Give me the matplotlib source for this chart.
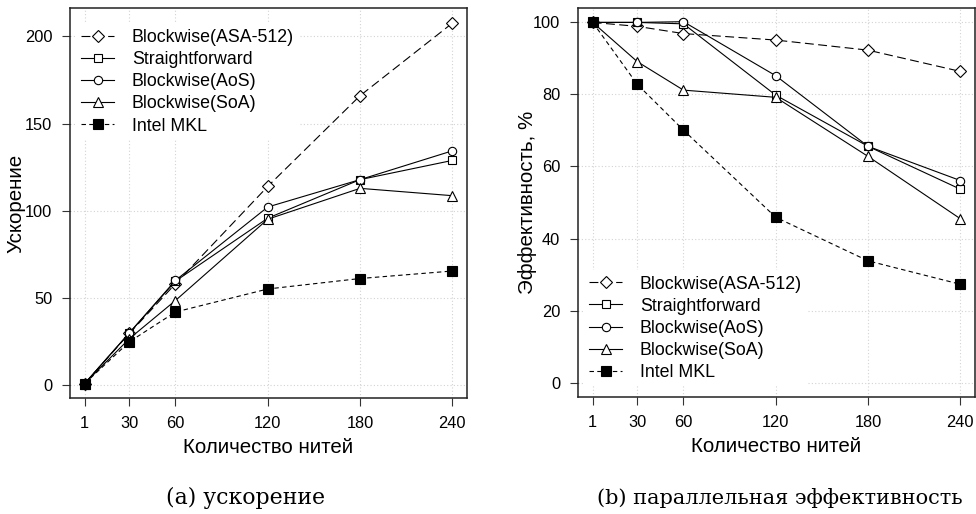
import matplotlib
matplotlib.use("Agg")
import matplotlib.pyplot as plt

plt.rcParams["font.family"] = ["Liberation Sans", "DejaVu Sans"]

# Число нитей
threads = [1, 30, 60, 120, 180, 240]

labels = [
    "Blockwise(ASA-512)",
    "Straightforward",
    "Blockwise(AoS)",
    "Blockwise(SoA)",
    "Intel MKL",
]

# Ускорение
speedup_asa = [1, 29.7, 58.2, 114.0, 166.0, 207.6]
speedup_straight = [1, 30.0, 59.7, 95.8, 117.9, 128.9]
speedup_aos = [1, 30.0, 60.1, 102.2, 117.9, 134.4]
speedup_soa = [1, 26.7, 48.6, 95.2, 112.9, 108.7]
speedup_mkl = [1, 24.9, 42.0, 55.2, 61.2, 65.5]

# Параллельная эффективность, %
eff_asa = [100, 98.9, 96.9, 95.1, 92.3, 86.4]
eff_straight = [100, 100.0, 99.6, 79.8, 65.6, 53.7]
eff_aos = [100, 100.0, 100.2, 85.2, 65.6, 56.1]
eff_soa = [100, 89.1, 81.2, 79.2, 62.8, 45.5]
eff_mkl = [100, 82.8, 70.1, 45.9, 33.8, 27.3]

_STYLE = [
    dict(marker="D", ms=6.0, mfc="white", ls=(0, (8, 4)), color="black"),
    dict(marker="s", ms=5.5, mfc="white", ls="-", color="black"),
    dict(marker="o", ms=6.0, mfc="white", ls="-", color="black"),
    dict(marker="^", ms=7.0, mfc="white", ls="-", color="black"),
    dict(marker="s", ms=6.5, mfc="black", ls=(0, (4, 3)), color="black"),
]


def draw_panel(ax, series, yticks, ylim, ylabel, ylabel_x, legend_anchor, legend_loc):
    ax.set_axisbelow(True)
    for x in threads:
        ax.axvline(x, color="#d3d3d3", lw=0.8, ls=(0, (1, 2)), zorder=0)
    for y in yticks:
        ax.axhline(y, color="#d3d3d3", lw=0.8, ls=(0, (1, 2)), zorder=0)

    for ys, lab, st in zip(series, labels, _STYLE):
        ax.plot(threads, ys, lw=0.8, mew=0.8, mec="black", label=lab, **st)

    ax.set_xlim(1 - 0.04 * 239, 240 + 0.04 * 239)
    ax.set_ylim(*ylim)
    ax.set_xticks(threads)
    ax.set_yticks(yticks)
    ax.tick_params(direction="out", length=5.8, width=0.8, labelsize=11.8,
                   color="#333333")
    ax.tick_params(axis="x", pad=7)
    ax.tick_params(axis="y", pad=7)
    for sp in ax.spines.values():
        sp.set_linewidth(1.1)
        sp.set_color("#222222")
    ax.set_xlabel("Количество нитей", fontsize=14.8)
    ax.set_ylabel(ylabel, fontsize=14.8)
    ax.xaxis.set_label_coords(0.5, -0.128)
    ax.xaxis.label.set_va("center")
    ax.yaxis.set_label_coords(ylabel_x, 0.5)
    ax.yaxis.label.set_va("center")

    leg = ax.legend(loc=legend_loc, bbox_to_anchor=legend_anchor,
                    fontsize=12.8, frameon=True, fancybox=False,
                    edgecolor="white", facecolor="white", framealpha=1,
                    handlelength=1.85, handletextpad=1.0, labelspacing=0.29,
                    borderpad=0.3, borderaxespad=0)
    leg.get_frame().set_linewidth(0)


fig = plt.figure(figsize=(9.76, 5.14), dpi=100)

ax1 = fig.add_axes([70 / 976, 116 / 514, 397 / 976, 390 / 514])
draw_panel(ax1,
           [speedup_asa, speedup_straight, speedup_aos, speedup_soa, speedup_mkl],
           [0, 50, 100, 150, 200], (-7.3, 216.3), "Ускорение", -0.135,
           (0.015, 0.96), "upper left")

ax2 = fig.add_axes([578 / 976, 117 / 514, 397 / 976, 389 / 514])
draw_panel(ax2,
           [eff_asa, eff_straight, eff_aos, eff_soa, eff_mkl],
           [0, 20, 40, 60, 80, 100], (-4, 104), "Эффективность, %", -0.127,
           (0.015, 0.027), "lower left")

cap_font = ["DejaVu Serif"]
fig.text(246 / 976, 16 / 514, "(a) ускорение", ha="center", va="center",
         fontsize=15.8, family=cap_font)
fig.text(780 / 976, 16 / 514, "(b) параллельная эффективность", ha="center",
         va="center", fontsize=15, family=cap_font)

fig.savefig("out.png", dpi=100)
